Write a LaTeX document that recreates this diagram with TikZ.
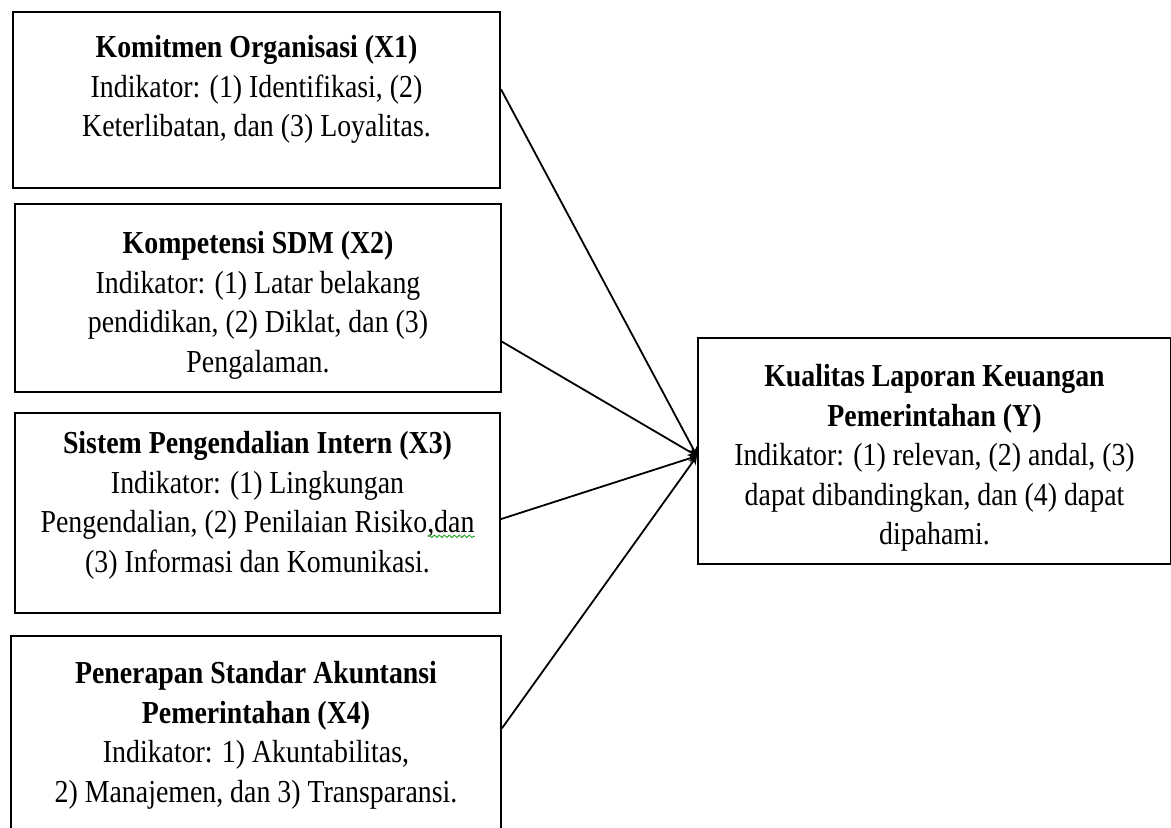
\documentclass[tikz,border=0pt]{standalone}
\usepackage{fontspec}
\setmainfont[FakeStretch=0.87]{Liberation Serif}
\usepackage{tikz}
\usetikzlibrary{positioning, calc, decorations.pathmorphing}
\definecolor{SpellGreen}{rgb}{0.2,0.65,0.2}

\tikzset{
    varbox/.style={draw=black, line width=1pt, anchor=north west, inner sep=0pt},
    vartext/.style={anchor=north, align=center, inner sep=0pt, font=\fontsize{16}{19.75}\selectfont},
    link/.style={-stealth, line width=0.9pt, black}
}

\begin{document}
\begin{tikzpicture}[x=0.5pt, y=-0.5pt]

    \clip (0,0) rectangle (1171,828);  % page of the reference

    % variable boxes
    \node[varbox, minimum width=243.5pt, minimum height=88pt] (x1) at (12,11) {};
    \node[varbox, minimum width=243pt, minimum height=94pt] (x2) at (14,203) {};
    \node[varbox, minimum width=242.5pt, minimum height=100pt] (x3) at (14,412) {};
    \node[varbox, minimum width=245pt, minimum height=110pt] (x4) at (10,635) {};
    \node[varbox, minimum width=236.5pt, minimum height=113pt] (y) at (697,337) {};

    % texts
    \node[vartext] (x1txt) at ($(x1.north)+(0,24)$)
        {\textbf{Komitmen Organisasi (X1)}\\
         Indikator: (1) Identifikasi, (2)\\
         Keterlibatan, dan (3) Loyalitas.};
    \node[vartext] (x2txt) at ($(x2.north)+(0,28)$)
        {\textbf{Kompetensi SDM (X2)}\\
         Indikator: (1) Latar belakang\\
         pendidikan, (2) Diklat, dan (3)\\
         Pengalaman.};
    \node[vartext] (x3txt) at ($(x3.north)+(0,19)$)
        {\textbf{Sistem Pengendalian Intern (X3)}\\
         Indikator: (1) Lingkungan\\
         Pengendalian, (2) Penilaian Risiko,dan\\
         (3) Informasi dan Komunikasi.};
    \node[vartext] (x4txt) at ($(x4.north)+(0,26)$)
        {\textbf{Penerapan Standar Akuntansi}\\
         \textbf{Pemerintahan (X4)}\\
         Indikator: 1) Akuntabilitas,\\
         2) Manajemen, dan 3) Transparansi.};
    \node[vartext] (ytxt) at ($(y.north)+(0,27)$)
        {\textbf{Kualitas Laporan Keuangan}\\
         \textbf{Pemerintahan (Y)}\\
         Indikator: (1) relevan, (2) andal, (3)\\
         dapat dibandingkan, dan (4) dapat\\
         dipahami.};

    % spelling wave under ",dan"
    \draw[SpellGreen, line width=0.5pt, decorate,
          decoration={snake, amplitude=0.6pt, segment length=2.5pt}]
        ($(x3txt.south east)+(-47,-43)$) -- ($(x3txt.south east)+(0,-43)$);

    % arrows into Y
    \coordinate (tip) at ($(y.west)+(0,5)$);
    \draw[link] ($(x1.north east)!0.44!(x1.south east)$) -- (tip);
    \draw[link] ($(x2.north east)!0.73!(x2.south east)$) -- (tip);
    \draw[link] ($(x3.north east)!0.53!(x3.south east)$) -- (tip);
    \draw[link] ($(x4.north east)!0.42!(x4.south east)$) -- (tip);

\end{tikzpicture}
\end{document}
